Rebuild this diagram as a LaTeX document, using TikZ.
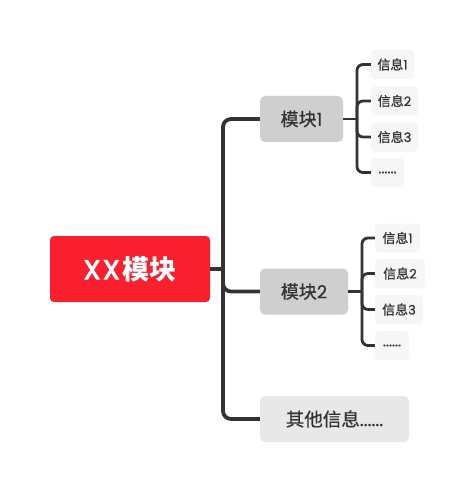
\documentclass[tikz,border=0pt]{standalone}
\usepackage{fontspec}
\setmainfont{Noto Sans CJK SC}
\newfontfamily\cjkm{Noto Sans CJK SC}[FakeBold=0.6]
\newfontfamily\lat{Poppins}[FakeBold=0.6]
\newfontfamily\latb{Poppins}[FakeBold=3.5]
\begin{document}
\begin{tikzpicture}[x=1pt,y=-1pt,
  rootbox/.style={fill=rootred,rounded corners=4pt,text=white,font=\fontsize{27}{27}\selectfont,minimum width=160pt,minimum height=66pt,inner sep=0pt},
  modbox/.style={fill=modgray,rounded corners=5pt,text=txt,font=\fontsize{18}{18}\cjkm,minimum height=46pt,inner sep=0pt},
  otherbox/.style={fill=othergray,rounded corners=5pt,text=txt,font=\fontsize{18.5}{18}\cjkm,minimum height=46pt,inner sep=0pt},
  infobox/.style={fill=infogray,rounded corners=4pt,text=txt,font=\fontsize{13}{13}\cjkm,minimum height=29pt,inner sep=0pt},
  trunk/.style={draw=linec,line width=3.8pt,rounded corners=8pt},
  twig/.style={draw=linec,line width=2.8pt,rounded corners=6pt}]
\definecolor{rootred}{HTML}{F91F2E}
\definecolor{modgray}{HTML}{CFCFCF}
\definecolor{othergray}{HTML}{E8E8E8}
\definecolor{infogray}{HTML}{F6F6F6}
\definecolor{txt}{HTML}{333333}
\definecolor{linec}{HTML}{333333}
\useasboundingbox (0,0) rectangle (475,492);
\fill[white] (0,0) rectangle (475,492);

\node[rootbox] (root) at (130,269) {{\latb X\kern2.5pt X\kern2.5pt}{\bfseries 模块}};
\node[modbox,minimum width=83pt] (m1) at (301.5,119) {模块{\lat 1}};
\node[modbox,minimum width=88pt] (m2) at (304,291.5) {模块{\lat 2}};
\node[otherbox,minimum width=149pt] (m3) at (334.5,419) {其他信息{\lat ......}};

\node[infobox,minimum width=43pt] (a1) at (392.5,64.5) {信息{\lat 1}};
\node[infobox,minimum width=47pt] (a2) at (394.5,101) {信息{\lat 2}};
\node[infobox,minimum width=47pt] (a3) at (394.5,137) {信息{\lat 3}};
\node[infobox,minimum width=33pt] (a4) at (387.5,172.5) {{\fontsize{14.5}{14}\lat ......}};

\node[infobox,minimum width=45pt] (b1) at (397.5,238) {信息{\lat 1}};
\node[infobox,minimum width=50pt] (b2) at (400,273.5) {信息{\lat 2}};
\node[infobox,minimum width=48pt] (b3) at (399,309.5) {信息{\lat 3}};
\node[infobox,minimum width=34pt] (b4) at (392,345.5) {{\fontsize{14.5}{14}\lat ......}};

\coordinate (J) at (223,269);
\coordinate (S1) at (357,119);
\coordinate (S2) at (362,291.5);

\draw[trunk,rounded corners=0pt] (root.east) -- (J);
\draw[trunk] (J) |- (m1.west);
\draw[trunk] (J) |- (m2.west);
\draw[trunk] (J) |- (m3.west);

\draw[twig,rounded corners=0pt] (m1.east) -- (S1);
\foreach \n in {a1,a2,a3,a4} \draw[twig] (S1) |- (\n.west);
\draw[twig,rounded corners=0pt] (m2.east) -- (S2);
\foreach \n in {b1,b2,b3,b4} \draw[twig] (S2) |- (\n.west);
\end{tikzpicture}
\end{document}
